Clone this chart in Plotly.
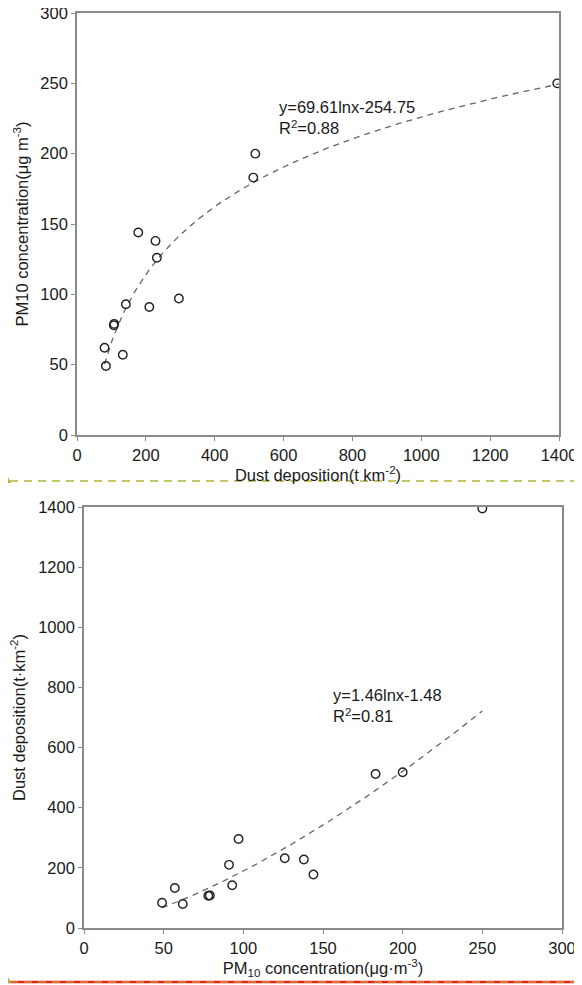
import numpy as np
import plotly.graph_objects as go

# ---- data ----
dust_deposition = [84, 80, 107, 108, 133, 142, 178, 210, 228, 232, 296, 512, 518, 1395]
pm10_conc = [49, 62, 78, 79, 57, 93, 144, 91, 138, 126, 97, 183, 200, 250]

# top fit: y = a*ln(x) + b
fit1_a, fit1_b = 69.61, -254.75
fit1_range = [80, 1400]
# bottom fit: ln(y) = a*ln(x) + b
fit2_a, fit2_b = 1.46, -1.48
fit2_range = [49, 250]

top_x_ticks = [0, 200, 400, 600, 800, 1000, 1200, 1400]
top_y_ticks = [0, 50, 100, 150, 200, 250, 300]
bot_x_ticks = [0, 50, 100, 150, 200, 250, 300]
bot_y_ticks = [0, 200, 400, 600, 800, 1000, 1200, 1400]

# page body has an 8px margin, so the figure is sized/offset to fit the window
OFF = 8
W, H = 582 - OFF, 985 - OFF
FONT = "Liberation Sans, Arial, sans-serif"
AX = "#8a8a8a"
TXT = "#1a1a1a"

fx1 = np.linspace(fit1_range[0], fit1_range[1], 200)
fy1 = fit1_a * np.log(fx1) + fit1_b
fx2 = np.linspace(fit2_range[0], fit2_range[1], 200)
fy2 = np.exp(fit2_a * np.log(fx2) + fit2_b)

fig = go.Figure()
marker = dict(symbol="circle-open", size=8.5, color="#222", line=dict(width=1.4, color="#222"))
dash_line = dict(color="#666", width=1.3, dash="6px,5px")

fig.add_trace(go.Scatter(x=fx1, y=fy1, mode="lines", line=dash_line, xaxis="x", yaxis="y", hoverinfo="skip"))
fig.add_trace(go.Scatter(x=dust_deposition, y=pm10_conc, mode="markers", marker=marker, xaxis="x", yaxis="y"))
fig.add_trace(go.Scatter(x=fx2, y=fy2, mode="lines", line=dash_line, xaxis="x2", yaxis="y2", hoverinfo="skip"))
fig.add_trace(go.Scatter(x=pm10_conc, y=dust_deposition, mode="markers", marker=marker, xaxis="x2", yaxis="y2"))

def px(v):
    return (v - OFF) / W
def py(v):
    return 1 - (v - OFF) / H

axis_common = dict(showline=True, linecolor=AX, linewidth=1.6, mirror=True, ticks="outside",
                   ticklen=4, tickcolor=AX, tickwidth=1.2, showgrid=False, zeroline=False,
                   automargin=False, ticklabeloverflow="allow",
                   tickfont=dict(family=FONT, size=16.5, color=TXT),
                   title_font=dict(family=FONT, size=16.5, color=TXT))

fig.update_layout(
    width=W, height=H, margin=dict(l=0, r=0, t=0, b=0),
    paper_bgcolor="white", plot_bgcolor="white", showlegend=False,
    font=dict(family=FONT, color=TXT),
    xaxis=dict(axis_common, domain=[px(77), px(559)], range=[0, 1400], tickvals=top_x_ticks,
               anchor="y", title=dict(text="Dust deposition(t km<sup>-2</sup>)", standoff=6)),
    yaxis=dict(axis_common, domain=[py(435), py(13)], range=[0, 300], tickvals=top_y_ticks,
               anchor="x", title=dict(text="PM10 concentration(μg m<sup>-3</sup>)", standoff=8)),
    xaxis2=dict(axis_common, domain=[px(84), px(562)], range=[0, 300], tickvals=bot_x_ticks,
                anchor="y2", title=dict(text="PM<sub>10</sub> concentration(μg·m<sup>-3</sup>)", standoff=4)),
    yaxis2=dict(axis_common, domain=[py(928), py(507)], range=[0, 1400], tickvals=bot_y_ticks,
                anchor="x2", title=dict(text="Dust deposition(t·km<sup>-2</sup>)", standoff=8)),
)

fig.add_annotation(text="y=69.61lnx-254.75<br>R<sup>2</sup>=0.88", xref="paper", yref="paper",
                   x=px(277), y=py(96), xanchor="left", yanchor="top", showarrow=False, align="left",
                   font=dict(family=FONT, size=16.5, color=TXT))
fig.add_annotation(text="y=1.46lnx-1.48<br>R<sup>2</sup>=0.81", xref="paper", yref="paper",
                   x=px(331), y=py(684), xanchor="left", yanchor="top", showarrow=False, align="left",
                   font=dict(family=FONT, size=16.5, color=TXT))

# decorative separators
fig.add_shape(type="line", xref="paper", yref="paper", x0=px(10), x1=1, y0=py(481), y1=py(481),
              line=dict(color="#b5b23a", width=1.3, dash="8px,6px"))
fig.add_shape(type="path", xref="paper", yref="paper",
              path=f"M {px(3)} {py(483)} L {px(11)} {py(483)} L {px(7)} {py(475)} Z",
              fillcolor="#b5b23a", line=dict(width=0))
fig.add_shape(type="line", xref="paper", yref="paper", x0=px(3), x1=1, y0=py(982), y1=py(982),
              line=dict(color="#e8231a", width=2.5))
fig.add_shape(type="line", xref="paper", yref="paper", x0=px(10), x1=1, y0=py(982), y1=py(982),
              line=dict(color="#c8c23a", width=1.2, dash="8px,6px"))
fig.add_shape(type="path", xref="paper", yref="paper",
              path=f"M {px(3)} {py(983)} L {px(11)} {py(983)} L {px(7)} {py(975)} Z",
              fillcolor="#b5b23a", line=dict(width=0))

fig.write_html("out.html")
